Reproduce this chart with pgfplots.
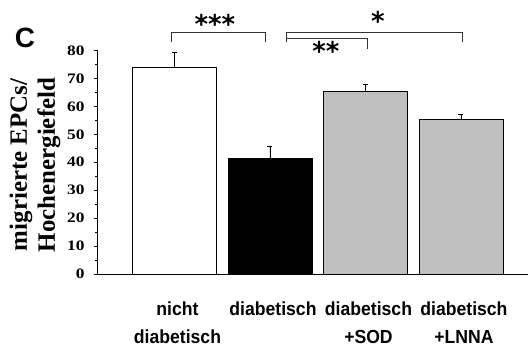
\documentclass[border=0pt]{standalone}
\usepackage{graphicx}
\usepackage{pgfplots}
\pgfplotsset{compat=1.18}
\usepackage{fontspec}
\setmainfont{Liberation Serif}
\newfontfamily\xlabfont[FakeStretch=0.93]{Liberation Sans}
\newfontfamily\sansfont{Liberation Sans}
\newfontfamily\starfont{DejaVu Sans}
\definecolor{bargray}{RGB}{191,191,191}
\begin{document}
\begin{tikzpicture}
\useasboundingbox (0,0) rectangle (529bp,347bp);
\node[font=\sansfont\bfseries\fontsize{28}{28}\selectfont, inner sep=0pt] at (25bp,309bp) {C};
\node[rotate=90, align=center, inner sep=0pt, font=\bfseries\fontsize{25}{28.3}\selectfont] at (35bp,182bp) {migrierte EPCs/\\Hochenergiefeld};
\begin{axis}[
  at={(97.7bp,73bp)}, anchor=south west,
  scale only axis, width=430.3bp, height=223.5bp,
  xmin=-0.804, xmax=3.702, ymin=0, ymax=80,
  axis x line=bottom, axis y line=left,
  axis line style={line width=1bp, -, black},
  clip=false,
  xtick={0,1,2,3},
  xticklabels={{nicht\\diabetisch},{diabetisch},{diabetisch\\+SOD},{diabetisch\\+LNNA}},
  major x tick style={draw=none},
  xticklabel style={align=center, anchor=north, inner sep=0pt, yshift=-24bp, xshift=3bp, font=\xlabfont\bfseries\fontsize{19}{28}\selectfont},
  ytick={0,10,...,80},
  minor y tick num=1,
  tick align=outside,
  major tick length=4bp, minor tick length=2.5bp,
  tick style={line width=1bp, black},
  yticklabel={\scalebox{1.2}[1]{\bfseries\pgfmathprintnumber{\tick}}},
  yticklabel style={anchor=east, inner sep=0pt, xshift=-9bp, font=\fontsize{14.5}{14.5}\selectfont},
  /pgf/number format/assume math mode=true,
]
\addplot[ybar, bar width=0.88, bar shift=0pt, fill=white, draw=black, line width=0.8bp,
  error bars/.cd, y dir=plus, y explicit,
  error bar style={line width=0.8bp, black},
  error mark options={rotate=90, mark size=2.5bp, line width=0.8bp, black}]
  coordinates {(0,73.8) +- (0,5.4)};
\addplot[ybar, bar width=0.88, bar shift=0pt, fill=black, draw=black, line width=0.8bp,
  error bars/.cd, y dir=plus, y explicit,
  error bar style={line width=0.8bp, black},
  error mark options={rotate=90, mark size=2.5bp, line width=0.8bp, black}]
  coordinates {(1,41.3) +- (0,4.5)};
\addplot[ybar, bar width=0.88, bar shift=0pt, fill=bargray, draw=black, line width=0.8bp,
  error bars/.cd, y dir=plus, y explicit,
  error bar style={line width=0.8bp, black},
  error mark options={rotate=90, mark size=2.5bp, line width=0.8bp, black}]
  coordinates {(2,65.5) +- (0,2.5)};
\addplot[ybar, bar width=0.88, bar shift=0pt, fill=bargray, draw=black, line width=0.8bp,
  error bars/.cd, y dir=plus, y explicit,
  error bar style={line width=0.8bp, black},
  error mark options={rotate=90, mark size=2.5bp, line width=0.8bp, black}]
  coordinates {(3,55.5) +- (0,1.7)};
% axis extension to the left
\draw[line width=1bp, black] (axis cs:-0.804,0) -- ++(-5bp,0);
% significance brackets
\draw[line width=1bp, black!80] (axis cs:-0.03,83.0) |- (axis cs:0.958,86.5) -- (axis cs:0.958,83.0);
\draw[line width=1bp, black!80] (axis cs:1.175,83.0) |- (axis cs:3.014,86.5) -- (axis cs:3.014,83.0);
\draw[line width=1bp, black!80] (axis cs:1.175,84.4) -- (axis cs:2.019,84.4) -- (axis cs:2.019,80.5);
\node[anchor=base, inner sep=0pt, font=\starfont\bfseries\fontsize{26}{26}\selectfont] at (axis cs:0.424,86.2) {***};
\node[anchor=base, inner sep=0pt, font=\starfont\bfseries\fontsize{26}{26}\selectfont] at (axis cs:2.131,87.3) {*};
\node[anchor=base, inner sep=0pt, font=\starfont\bfseries\fontsize{26}{26}\selectfont] at (axis cs:1.586,76.3) {**};
\end{axis}
\end{tikzpicture}
\end{document}
